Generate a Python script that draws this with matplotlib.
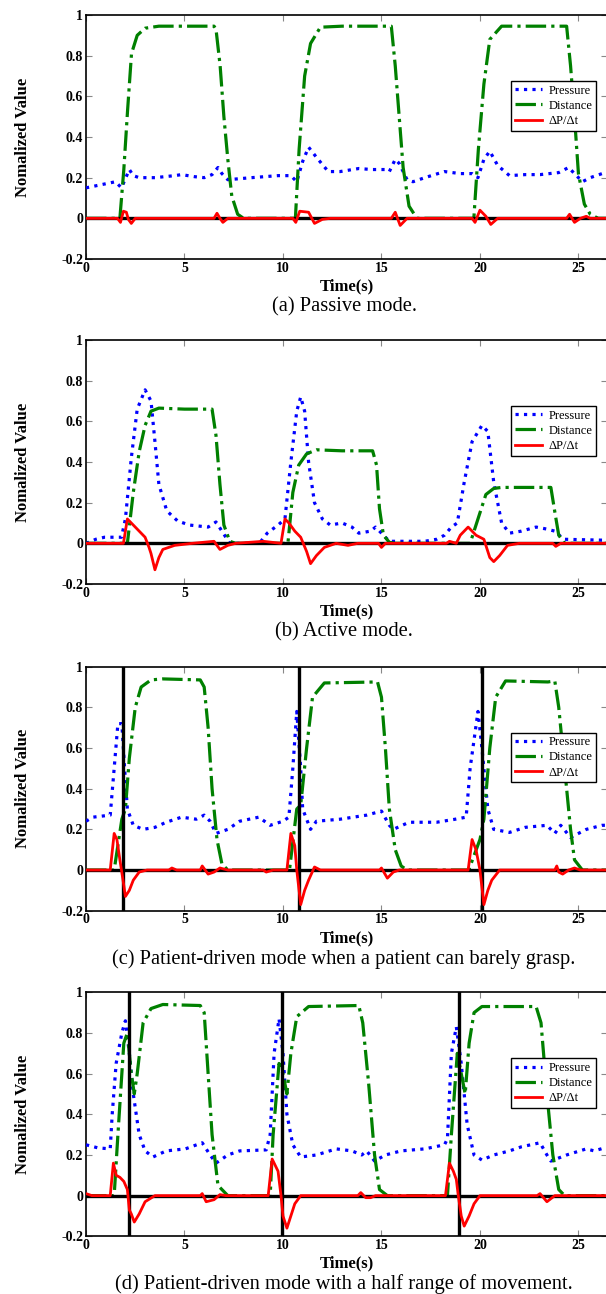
import numpy as np
import matplotlib
matplotlib.use('Agg')
import matplotlib.pyplot as plt

plt.rcParams['font.family'] = ['Liberation Serif', 'DejaVu Serif']

# (t, value) points for each panel
pressure_a = [(0, 0.15), (0.5, 0.16), (1.0, 0.17), (1.5, 0.18), (1.8, 0.15), (2.2, 0.24), (2.4, 0.21), (2.7, 0.2),
              (3.5, 0.2), (4.5, 0.21), (4.85, 0.215), (5.5, 0.205), (6.0, 0.2), (6.4, 0.215), (6.7, 0.25), (6.9, 0.22),
              (7.2, 0.19), (8.4, 0.2), (9.75, 0.21), (10.4, 0.21), (10.7, 0.18), (11.0, 0.28), (11.3, 0.35), (11.7, 0.3),
              (12.3, 0.23), (12.9, 0.23), (13.85, 0.245), (14.5, 0.24), (15.2, 0.24), (15.4, 0.23), (15.7, 0.29),
              (15.9, 0.27), (16.3, 0.19), (16.6, 0.18), (17.2, 0.2), (18.2, 0.23), (19.0, 0.22), (19.6, 0.22),
              (19.9, 0.2), (20.2, 0.29), (20.5, 0.33), (20.9, 0.26), (21.5, 0.21), (22.3, 0.215), (23.05, 0.215),
              (24.0, 0.225), (24.5, 0.25), (24.8, 0.22), (25.2, 0.18), (25.6, 0.2), (26.2, 0.22), (26.5, 0.23)]
distance_a = [(0, 0), (1.72, 0), (1.92, 0.24), (2.11, 0.53), (2.31, 0.81), (2.6, 0.9), (3.0, 0.935), (3.7, 0.945),
              (5, 0.945), (6.5, 0.945), (6.6, 0.93), (6.81, 0.75), (7.0, 0.5), (7.2, 0.29), (7.4, 0.11), (7.7, 0.02),
              (8.0, 0), (10.63, 0), (10.82, 0.34), (11.1, 0.7), (11.4, 0.86), (11.9, 0.94), (13, 0.945), (15.5, 0.945),
              (15.7, 0.75), (15.9, 0.5), (16.1, 0.25), (16.4, 0.06), (16.8, 0), (19.69, 0), (19.92, 0.34), (20.2, 0.66),
              (20.5, 0.88), (21.1, 0.945), (24.4, 0.945), (24.6, 0.75), (24.8, 0.5), (25.0, 0.22), (25.3, 0.07),
              (25.6, 0.02), (26.0, 0), (26.5, 0)]
dpdt_a = [(0, 0), (1.6, 0), (1.75, -0.02), (1.9, 0.035), (2.05, 0.03), (2.15, -0.005), (2.3, -0.025), (2.5, 0),
          (6.5, 0), (6.65, 0.025), (6.8, 0), (6.95, -0.02), (7.2, 0), (10.5, 0), (10.65, -0.02), (10.85, 0.035),
          (11.3, 0.03), (11.6, -0.025), (12.0, -0.005), (12.4, 0), (15.5, 0), (15.7, 0.03), (15.95, -0.035),
          (16.3, 0), (19.6, 0), (19.75, -0.02), (20.0, 0.04), (20.3, 0.01), (20.55, -0.03), (20.9, 0), (24.4, 0),
          (24.55, 0.02), (24.8, -0.02), (25.1, 0), (25.4, 0.01), (25.6, 0), (26.5, 0)]

pressure_b = [(0, 0), (0.5, 0.02), (0.94, 0.03), (1.8, 0.03), (2.0, 0.12), (2.3, 0.42), (2.6, 0.66), (3.0, 0.755),
              (3.3, 0.7), (3.5, 0.5), (3.7, 0.29), (4.1, 0.16), (4.65, 0.11), (5.25, 0.09), (6.2, 0.08), (6.6, 0.105),
              (6.9, 0.06), (7.3, 0.0), (8.8, 0), (9.2, 0.05), (9.75, 0.09), (10.1, 0.12), (10.4, 0.4), (10.7, 0.65),
              (10.9, 0.72), (11.1, 0.65), (11.3, 0.4), (11.6, 0.2), (12.0, 0.12), (12.4, 0.09), (13.0, 0.1),
              (13.5, 0.08), (13.85, 0.05), (14.45, 0.06), (14.7, 0.08), (15.0, 0.05), (15.4, 0.01), (17.2, 0.01),
              (17.8, 0.02), (18.2, 0.04), (18.55, 0.08), (18.85, 0.1), (19.2, 0.3), (19.6, 0.5), (20.1, 0.58),
              (20.4, 0.55), (20.7, 0.3), (21.1, 0.1), (21.5, 0.05), (22.1, 0.06), (22.85, 0.08), (23.4, 0.07),
              (23.8, 0.06), (24.25, 0.02), (26.5, 0.015)]
distance_b = [(0, 0), (2.1, 0), (2.4, 0.25), (2.7, 0.45), (3.0, 0.58), (3.3, 0.65), (3.7, 0.665), (5, 0.66),
              (6.4, 0.66), (6.6, 0.53), (6.8, 0.29), (7.0, 0.09), (7.3, 0.01), (7.6, 0), (10.25, 0), (10.5, 0.25),
              (10.8, 0.385), (11.2, 0.44), (11.7, 0.46), (13, 0.455), (14.55, 0.455), (14.75, 0.385), (14.9, 0.17),
              (15.1, 0.04), (15.4, 0.005), (15.7, 0), (19.5, 0), (19.9, 0.12), (20.3, 0.24), (20.7, 0.27),
              (21.1, 0.275), (23.6, 0.275), (23.8, 0.155), (24.0, 0.04), (24.3, 0), (26.5, 0)]
dpdt_b = [(0, 0), (1.9, 0), (2.1, 0.12), (2.4, 0.09), (2.7, 0.06), (3.0, 0.03), (3.2, -0.02), (3.3, -0.05),
          (3.5, -0.13), (3.7, -0.07), (3.9, -0.03), (4.5, -0.01), (5.4, 0), (6.5, 0.01), (6.8, -0.03), (7.2, -0.01),
          (7.6, 0), (9.0, 0.01), (9.9, 0), (10.1, 0.12), (10.3, 0.1), (10.6, 0.06), (10.9, 0.03), (11.2, -0.04),
          (11.4, -0.1), (11.7, -0.06), (12.1, -0.02), (12.7, 0), (13.3, -0.01), (13.8, 0), (14.85, 0),
          (15.0, -0.02), (15.2, 0), (18.3, 0), (18.45, 0.01), (18.8, 0), (19.0, 0.04), (19.4, 0.08), (19.8, 0.04),
          (20.2, 0.02), (20.5, -0.07), (20.7, -0.09), (21.0, -0.06), (21.4, -0.01), (22, 0), (23.7, 0),
          (23.85, -0.015), (24.1, 0), (26.5, 0)]

pressure_c = [(0, 0.24), (0.35, 0.26), (1.23, 0.27), (1.43, 0.5), (1.62, 0.72), (1.82, 0.72), (1.96, 0.5),
              (2.1, 0.3), (2.4, 0.22), (2.9, 0.2), (3.5, 0.21), (4.07, 0.235), (4.85, 0.26), (5.6, 0.25), (6.0, 0.27),
              (6.3, 0.24), (6.6, 0.18), (7.2, 0.2), (7.8, 0.24), (8.77, 0.26), (9.35, 0.22), (10.0, 0.24),
              (10.3, 0.26), (10.5, 0.5), (10.7, 0.78), (10.9, 0.5), (11.0, 0.3), (11.4, 0.2), (11.7, 0.24),
              (12.9, 0.25), (14.25, 0.27), (15.0, 0.29), (15.4, 0.22), (15.6, 0.2), (16.4, 0.235), (17.8, 0.235),
              (18.75, 0.25), (19.3, 0.26), (19.5, 0.5), (19.9, 0.78), (20.1, 0.6), (20.4, 0.3), (20.7, 0.2),
              (21.5, 0.185), (22.3, 0.21), (23.4, 0.22), (23.8, 0.18), (24.1, 0.22), (24.6, 0.16), (25.4, 0.2),
              (26.2, 0.22), (26.5, 0.22)]
distance_c = [(0, 0), (1.43, 0), (1.82, 0.25), (2.0, 0.3), (2.2, 0.55), (2.5, 0.8), (2.8, 0.9), (3.3, 0.935),
              (3.9, 0.94), (5.8, 0.935), (6.0, 0.9), (6.2, 0.7), (6.4, 0.4), (6.65, 0.15), (6.9, 0.03), (7.2, 0),
              (10.33, 0), (10.7, 0.3), (10.9, 0.32), (11.2, 0.6), (11.5, 0.85), (12.1, 0.92), (14.8, 0.925),
              (15.0, 0.85), (15.2, 0.6), (15.4, 0.3), (15.7, 0.1), (16.0, 0.02), (16.3, 0), (19.43, 0), (20.0, 0.15),
              (20.2, 0.25), (20.5, 0.6), (20.8, 0.85), (21.3, 0.93), (23.45, 0.925), (23.8, 0.93), (24.0, 0.8),
              (24.3, 0.5), (24.6, 0.2), (24.8, 0.05), (25.2, 0), (26.5, 0)]
dpdt_c = [(0, 0), (1.23, 0), (1.43, 0.18), (1.57, 0.15), (1.72, 0.05), (1.88, -0.05), (2.0, -0.13), (2.2, -0.1),
          (2.4, -0.05), (2.7, -0.01), (3.1, 0), (4.2, 0), (4.36, 0.01), (4.6, 0), (5.8, 0), (5.9, 0.02),
          (6.2, -0.02), (6.5, -0.01), (6.8, 0.01), (7.2, 0), (9.0, 0), (9.15, -0.01), (9.5, 0), (10.2, 0),
          (10.4, 0.18), (10.6, 0.12), (10.7, 0), (10.9, -0.17), (11.1, -0.1), (11.3, -0.05), (11.6, 0.015),
          (11.9, 0), (14.9, 0), (15.0, 0.01), (15.3, -0.04), (15.6, -0.01), (15.9, 0), (19.4, 0), (19.6, 0.15),
          (19.8, 0.1), (20.0, 0), (20.2, -0.17), (20.4, -0.1), (20.6, -0.05), (21.0, 0), (23.8, 0), (23.9, 0.02),
          (24.0, -0.01), (24.2, -0.02), (24.5, 0), (24.8, 0.01), (25.1, 0), (26.5, 0)]

pressure_d = [(0, 0.25), (0.6, 0.235), (1.23, 0.23), (1.33, 0.4), (1.53, 0.65), (1.82, 0.8), (2.0, 0.86),
              (2.2, 0.7), (2.4, 0.5), (2.7, 0.3), (3.0, 0.22), (3.4, 0.19), (4.07, 0.22), (5.05, 0.23), (5.9, 0.26),
              (6.3, 0.2), (6.6, 0.16), (7.2, 0.2), (7.8, 0.22), (9.15, 0.225), (9.35, 0.3), (9.55, 0.7), (9.8, 0.87),
              (10.0, 0.7), (10.2, 0.4), (10.5, 0.25), (10.9, 0.19), (11.7, 0.2), (12.7, 0.23), (13.5, 0.22),
              (14.0, 0.2), (14.25, 0.22), (14.65, 0.17), (15.2, 0.2), (16.0, 0.22), (17.2, 0.23), (18.2, 0.25),
              (18.35, 0.28), (18.55, 0.7), (18.8, 0.83), (19.05, 0.65), (19.35, 0.35), (19.7, 0.2), (20.1, 0.175),
              (20.7, 0.2), (21.5, 0.22), (22.1, 0.24), (23.05, 0.26), (23.4, 0.2), (23.6, 0.17), (24.4, 0.2),
              (25.4, 0.23), (25.8, 0.22), (26.5, 0.24)]
distance_d = [(0, 0), (1.43, 0), (1.62, 0.3), (1.92, 0.75), (2.1, 0.8), (2.3, 0.6), (2.45, 0.5), (2.6, 0.6),
              (2.9, 0.85), (3.3, 0.92), (3.9, 0.94), (5.8, 0.935), (6.0, 0.9), (6.2, 0.6), (6.4, 0.3), (6.7, 0.05),
              (7.2, 0), (9.35, 0), (9.5, 0.3), (9.8, 0.65), (10.0, 0.6), (10.2, 0.5), (10.4, 0.7), (10.7, 0.88),
              (11.3, 0.93), (13.85, 0.935), (14.05, 0.85), (14.35, 0.55), (14.65, 0.2), (14.9, 0.03), (15.3, 0),
              (18.35, 0), (18.55, 0.3), (18.85, 0.7), (19.15, 0.55), (19.25, 0.5), (19.45, 0.75), (19.7, 0.9),
              (20.1, 0.93), (22.85, 0.93), (23.1, 0.85), (23.4, 0.5), (23.7, 0.2), (24.0, 0.03), (24.3, 0), (26.5, 0)]
dpdt_d = [(0, 0.01), (0.3, 0), (1.23, 0), (1.39, 0.16), (1.53, 0.1), (1.72, 0.09), (1.92, 0.07), (2.1, 0.03),
          (2.2, -0.07), (2.3, -0.09), (2.45, -0.13), (2.7, -0.09), (3.0, -0.03), (3.5, 0), (5.8, 0), (5.9, 0.01),
          (6.1, -0.03), (6.5, -0.02), (6.8, 0.005), (7.1, 0), (9.25, 0), (9.45, 0.18), (9.75, 0.12), (9.9, 0),
          (10.0, -0.1), (10.2, -0.16), (10.4, -0.1), (10.6, -0.04), (10.9, 0), (13.8, 0), (13.95, 0.015),
          (14.2, -0.01), (14.45, -0.01), (14.7, 0), (18.25, 0), (18.45, 0.16), (18.65, 0.12), (18.8, 0.08),
          (18.9, 0), (19.05, -0.1), (19.2, -0.15), (19.45, -0.1), (19.7, -0.04), (20.0, 0), (22.9, 0),
          (23.05, 0.01), (23.4, -0.03), (23.8, 0), (26.5, 0)]

# vertical trigger markers (panels c, d)
triggers_c = [1.87, 10.8, 20.08]
triggers_d = [2.16, 9.96, 18.95]

captions = ['(a) Passive mode.',
            '(b) Active mode.',
            '(c) Patient-driven mode when a patient can barely grasp.',
            '(d) Patient-driven mode with a half range of movement.']
xticks = [0, 5, 10, 15, 20, 25]
yticks = [-0.2, 0, 0.2, 0.4, 0.6, 0.8, 1]
yticklabels = ['-0.2', '0', '0.2', '0.4', '0.6', '0.8', '1']

panels = [(pressure_a, distance_a, dpdt_a, []),
          (pressure_b, distance_b, dpdt_b, []),
          (pressure_c, distance_c, dpdt_c, triggers_c),
          (pressure_d, distance_d, dpdt_d, triggers_d)]

W, H = 606, 1294
fig = plt.figure(figsize=(W / 100, H / 100), dpi=100)

tops = [15, 340, 666.7, 992.3]   # axes top in pixels
ax_h = 244
left_px, right_px = 86, 607

for i, (pr, di, dp, trig) in enumerate(panels):
    top = tops[i]
    ax = fig.add_axes([left_px / W, 1 - (top + ax_h) / H, (right_px - left_px) / W, ax_h / H])
    t, v = np.array(pr).T
    ax.plot(t, v, color='#0000ff', linestyle=':', lw=2.3, label='Pressure', zorder=3)
    t, v = np.array(di).T
    ax.plot(t, v, color='#008000', linestyle='-.', lw=2.3, label='Distance', zorder=3)
    ax.axhline(0, color='black', lw=2.4, zorder=4)
    for x in trig:
        ax.axvline(x, color='black', lw=2.4, zorder=4)
    t, v = np.array(dp).T
    ax.plot(t, v, color='#ff0000', linestyle='-', lw=2.0, label='ΔP/Δt', zorder=5)

    ax.set_xlim(0, 26.45)
    ax.set_ylim(-0.2, 1)
    ax.set_xticks(xticks)
    ax.set_yticks(yticks)
    ax.set_xticklabels([str(x) for x in xticks], fontweight='bold', fontsize=10)
    ax.set_yticklabels(yticklabels, fontweight='bold', fontsize=10)
    ax.tick_params(direction='in', length=4, width=0.8, color='#888888', top=True, right=True, pad=2)
    for s in ax.spines.values():
        s.set_linewidth(1.2)

    ax.set_xlabel('Time(s)', fontweight='bold', fontsize=12)
    ax.xaxis.set_label_coords(0.5, -0.08)
    ax.set_ylabel('Nomalized Value', fontweight='bold', fontsize=12)
    ax.yaxis.set_label_coords(-0.105, 0.5)

    leg = ax.legend(loc='upper right', bbox_to_anchor=(0.979, 0.73), fontsize=9, frameon=True,
                    fancybox=False, framealpha=1, edgecolor='black', handlelength=2.2,
                    borderpad=0.3, labelspacing=0.25, handletextpad=0.5, borderaxespad=0)
    leg.get_frame().set_linewidth(1.0)

    fig.text(344 / W, 1 - (top + 292) / H, captions[i], ha='center', va='center', fontsize=14.8)

fig.savefig('out.png', dpi=100)
